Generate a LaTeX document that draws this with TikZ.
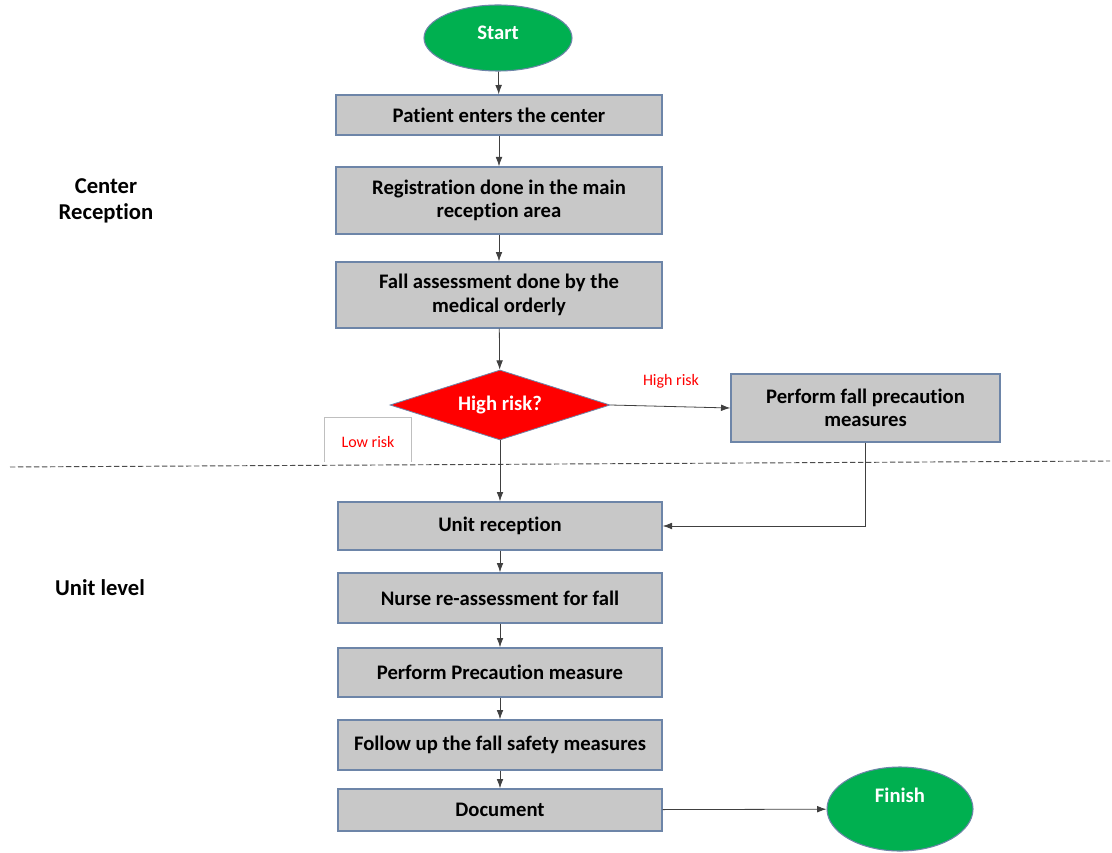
\documentclass[tikz,border=0pt]{standalone}
\usepackage{fontspec}
\setmainfont[Ligatures=NoCommon]{Carlito}
\usetikzlibrary{shapes.geometric,arrows.meta}
\definecolor{boxgray}{HTML}{C8C8C8}
\definecolor{boxedge}{HTML}{6D85A8}
\definecolor{startgreen}{HTML}{00B050}
\newlength{\px}
\setlength{\px}{0.75pt}
\tikzset{
  bigfont/.style={font=\fontsize{15.5}{17.5}\selectfont\bfseries},
  stepbox/.style={draw=boxedge, line width=1pt, fill=boxgray, align=center,
    bigfont, text=black, inner sep=0pt},
  term/.style={ellipse, draw=boxedge, line width=0.8pt, fill=startgreen, inner sep=0pt},
  termtext/.style={text=white, bigfont},
  conn/.style={draw=black!75, line width=0.6pt, -{Latex[length=7pt,width=5pt]}},
  lbl/.style={text=red, font=\fontsize{12}{14}\selectfont},
  side/.style={font=\fontsize{17}{19}\selectfont\bfseries, align=center}
}
\begin{document}
\begin{tikzpicture}[x=0.75pt, y=-0.75pt]
\useasboundingbox (0,0) rectangle (1112,852);
% start / finish
\node[term, minimum width=148\px, minimum height=66\px] (start) at (498,38) {};
\node[termtext] (startt) at (498,33) {Start};
\node[term, minimum width=146\px, minimum height=84\px] (finish) at (900,809) {};
\node[termtext] (finisht) at (900,795) {Finish};
% boxes
\node[stepbox, minimum width=326\px, minimum height=40\px] (b1) at (499,115) {Patient enters the center};
\node[stepbox, minimum width=326\px, minimum height=67\px] (b2) at (499,200.5) {Registration done in the main\\reception area};
\node[stepbox, minimum width=326\px, minimum height=66\px] (b3) at (499,295) {Fall assessment done by the\\medical orderly};
\node[diamond, draw=boxedge, line width=0.6pt, fill=red, minimum width=220\px, minimum height=70\px, inner sep=0pt] (d) at (500,405) {};
\node[termtext] (dt) at (500,405) {High risk?};
\node[stepbox, minimum width=269\px, minimum height=68\px] (pf) at (865.5,408) {Perform fall precaution\\measures};
\node[stepbox, minimum width=324\px, minimum height=48\px] (u1) at (500,526) {Unit reception};
\node[stepbox, minimum width=324\px, minimum height=50\px] (u2) at (500,598) {Nurse re-assessment for fall};
\node[stepbox, minimum width=324\px, minimum height=49\px] (u3) at (500,672.5) {Perform Precaution measure};
\node[stepbox, minimum width=324\px, minimum height=50\px] (u4) at (500,745) {Follow up the fall safety measures};
\node[stepbox, minimum width=324\px, minimum height=42\px] (u5) at (500,810) {Document};
% side labels
\node[side] (cr) at (106,201) {Center\\Reception};
\node[side] (ul) at (100,588) {Unit level};
% labels
\node[lbl] (hr) at (671,381) {High risk};
\draw[black!25, line width=0.5pt] (324,462) -- (324,417) -- (411,417) -- (411,462);
\node[lbl] (lr) at (368,442) {Low risk};
% dashed line
\coordinate (dl) at (10,467);
\coordinate (dr) at (1110,461);
\draw[black!70, line width=0.7pt, dash pattern=on 4pt off 2pt] (dl) -- (dr);
% connectors
\draw[conn] (start) -- (b1);
\draw[conn] (b1) -- (b2);
\draw[conn] (b2) -- (b3);
\draw[conn] (b3) -- (d);
\draw[conn] (d.east) -- (pf.west);
\draw[conn] (d.south) -- (u1.north);
\draw[conn] (pf.south) |- (u1.east);
\draw[conn] (u1) -- (u2);
\draw[conn] (u2) -- (u3);
\draw[conn] (u3) -- (u4);
\draw[conn] (u4) -- (u5);
\draw[conn] (u5) -- (finish);
\end{tikzpicture}
\end{document}
